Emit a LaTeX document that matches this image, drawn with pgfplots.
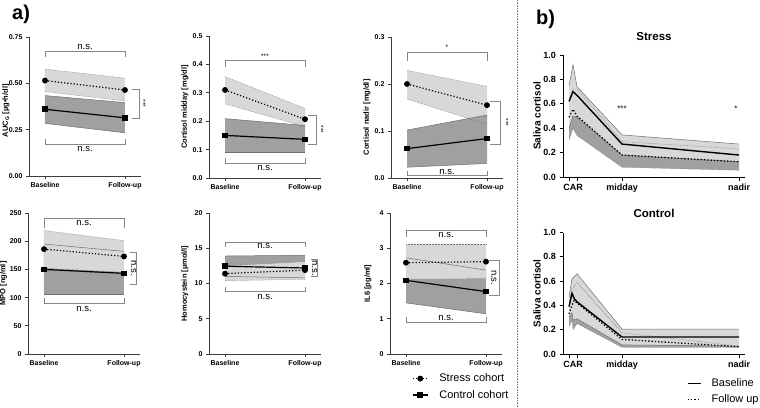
\documentclass[border=0pt]{standalone}
\usepackage{pgfplots}
\pgfplotsset{compat=1.18}
\usepackage{fontspec}
\setmainfont{Liberation Sans}
\definecolor{lightband}{RGB}{216,216,216}
\definecolor{darkband}{RGB}{160,160,160}
\definecolor{edgegray}{RGB}{110,110,110}
\definecolor{brgray}{RGB}{135,135,135}
\definecolor{axgray}{RGB}{60,60,60}
\pgfplotsset{
 panA/.style={scale only axis, width=112pt, xmin=-0.2, xmax=1.2, ymin=0, clip=false,
  axis lines=left, axis line style={-, axgray, line width=0.9pt},
  tick style={axgray, line width=0.9pt}, major tick length=3pt, tick align=outside,
  xtick={0,1}, xticklabels={Baseline,Follow-up},
  tick label style={font=\fontsize{7}{8}\selectfont\bfseries},
  /pgf/number format/assume math mode=true,
  every axis y label/.style={rotate=90, anchor=center, font=\fontsize{7.5}{8}\selectfont\bfseries},
 },
 panB/.style={scale only axis, width=182pt, xmin=-6, xmax=176, ymin=0, ymax=1, clip=false,
  axis lines=left, axis line style={-, black, line width=1pt},
  tick style={black, line width=1pt}, major tick length=3.5pt, tick align=outside,
  xtick={0,8,53,170}, xticklabels={,,midday,nadir},
  extra x ticks={4}, extra x tick labels={CAR}, extra x tick style={major tick style={draw=none}},
  ytick={0,0.2,0.4,0.6,0.8,1}, yticklabels={0.0,0.2,0.4,0.6,0.8,1.0},
  tick label style={font=\fontsize{9}{10}\selectfont\bfseries},
  /pgf/number format/assume math mode=true,
  every axis y label/.style={rotate=90, anchor=center, at={(axis description cs:-0.143,0.5)}, font=\fontsize{10}{11}\selectfont\bfseries},
  ylabel={Saliva cortisol},
 },
 stressmean/.style={black, line width=1.2pt, dotted, mark=*, mark size=2.3pt, mark options={solid, fill=black}},
 ctrlmean/.style={black, line width=1.2pt, mark=square*, mark size=2.2pt, mark options={solid, fill=black}},
 sedge/.style={edgegray, line width=0.5pt, densely dotted},
 cedge/.style={edgegray, line width=0.5pt},
 bmean/.style={black, line width=1.4pt},
 fmean/.style={black, line width=1.3pt, dotted},
}
\tikzset{br/.style={brgray, line width=0.8pt}, ns/.style={font=\fontsize{9.5}{10}\selectfont, inner sep=1pt}, star/.style={font=\fontsize{6.5}{7}\selectfont, inner sep=1pt}}
\begin{document}
\begin{tikzpicture}
\path[use as bounding box] (0pt,0pt) rectangle (760pt,-407pt);
\node[anchor=base west, font=\fontsize{20}{22}\selectfont\bfseries, inner sep=0pt] at (12pt,-19pt) {a)};
\node[anchor=base west, font=\fontsize{20}{22}\selectfont\bfseries, inner sep=0pt] at (536pt,-24pt) {b)};
\draw[gray, densely dotted, line width=0.6pt] (517pt,0pt) -- (517pt,-407pt);

% ---------- Panel 1: AUC
\begin{axis}[panA, at={(29pt,-176pt)}, anchor=south west, height=139pt, ymax=0.75,
  ytick={0,0.25,0.5,0.75}, yticklabels={0.00,0.25,0.50,0.75},
  ylabel={AUC\textsubscript{G} [µg•h/dl]}, ylabel style={at={(axis description cs:-0.205,0.47)}}]
\addplot[fill=lightband, draw=none, forget plot] coordinates {(0,0.577) (1,0.528) (1,0.405) (0,0.455)} -- cycle;
\addplot[fill=darkband, draw=none, forget plot] coordinates {(0,0.434) (1,0.396) (1,0.233) (0,0.284)} -- cycle;
\addplot[sedge, forget plot] coordinates {(0,0.577) (1,0.528)};
\addplot[sedge, forget plot] coordinates {(0,0.455) (1,0.405)};
\addplot[cedge, forget plot] coordinates {(0,0.434) (1,0.396)};
\addplot[cedge, forget plot] coordinates {(0,0.284) (1,0.233)};
\addplot[stressmean, forget plot] coordinates {(0,0.515) (1,0.464)};
\addplot[ctrlmean, forget plot] coordinates {(0,0.360) (1,0.314)};
\draw[br] (axis cs:0,0.642) |- (axis cs:1,0.672) -- (axis cs:1,0.642);
\node[ns, anchor=south] at (axis cs:0.5,0.675) {n.s.};
\draw[br] (axis cs:0,0.202) |- (axis cs:1,0.172) -- (axis cs:1,0.202);
\node[ns, anchor=north] at (axis cs:0.5,0.165) {n.s.};
\draw[br] (axis cs:1.087,0.468) -- (axis cs:1.18,0.468) -- (axis cs:1.18,0.311) -- (axis cs:1.087,0.311);
\node[star, rotate=-90] at (axis cs:1.23,0.39) {***};
\end{axis}

% ---------- Panel 2: Cortisol midday
\begin{axis}[panA, at={(209pt,-178pt)}, anchor=south west, height=142pt, ymax=0.5,
  ytick={0,0.1,0.2,0.3,0.4,0.5}, yticklabels={0.0,0.1,0.2,0.3,0.4,0.5},
  ylabel={Cortisol midday [mg/dl]}, ylabel style={at={(axis description cs:-0.214,0.5)}}]
\addplot[fill=lightband, draw=none, forget plot] coordinates {(0,0.357) (1,0.245) (1,0.181) (0,0.261)} -- cycle;
\addplot[fill=darkband, draw=none, forget plot] coordinates {(0,0.209) (1,0.185) (1,0.089) (0,0.089)} -- cycle;
\addplot[sedge, forget plot] coordinates {(0,0.357) (1,0.245)};
\addplot[sedge, forget plot] coordinates {(0,0.261) (1,0.181)};
\addplot[cedge, forget plot] coordinates {(0,0.209) (1,0.185)};
\addplot[cedge, forget plot] coordinates {(0,0.089) (1,0.089)};
\addplot[stressmean, forget plot] coordinates {(0,0.310) (1,0.207)};
\addplot[ctrlmean, forget plot] coordinates {(0,0.150) (1,0.136)};
\draw[br] (axis cs:0,0.392) |- (axis cs:1,0.413) -- (axis cs:1,0.392);
\node[star, anchor=south] at (axis cs:0.5,0.418) {***};
\draw[br] (axis cs:0,0.069) |- (axis cs:1,0.052) -- (axis cs:1,0.069);
\node[ns, anchor=north] at (axis cs:0.5,0.048) {n.s.};
\draw[br] (axis cs:1.04,0.222) -- (axis cs:1.14,0.222) -- (axis cs:1.14,0.12) -- (axis cs:1.04,0.12);
\node[star, rotate=-90] at (axis cs:1.2,0.171) {***};
\end{axis}

% ---------- Panel 3: Cortisol nadir
\begin{axis}[panA, at={(391pt,-178pt)}, anchor=south west, height=141pt, ymax=0.3,
  ytick={0,0.1,0.2,0.3}, yticklabels={0.0,0.1,0.2,0.3},
  ylabel={Cortisol nadir [mg/dl]}, ylabel style={at={(axis description cs:-0.214,0.43)}}]
\addplot[fill=lightband, draw=none, forget plot] coordinates {(0,0.229) (1,0.195) (1,0.114) (0,0.168)} -- cycle;
\addplot[fill=darkband, draw=none, forget plot] coordinates {(0,0.102) (1,0.134) (1,0.031) (0,0.023)} -- cycle;
\addplot[sedge, forget plot] coordinates {(0,0.229) (1,0.195)};
\addplot[sedge, forget plot] coordinates {(0,0.168) (1,0.114)};
\addplot[cedge, forget plot] coordinates {(0,0.102) (1,0.134)};
\addplot[cedge, forget plot] coordinates {(0,0.023) (1,0.031)};
\addplot[stressmean, forget plot] coordinates {(0,0.200) (1,0.155)};
\addplot[ctrlmean, forget plot] coordinates {(0,0.0625) (1,0.084)};
\draw[br] (axis cs:0,0.25) |- (axis cs:1,0.268) -- (axis cs:1,0.25);
\node[star, anchor=south] at (axis cs:0.5,0.27) {*};
\draw[br] (axis cs:0,0.0156) |- (axis cs:1,0.0064) -- (axis cs:1,0.0156);
\node[ns] at (axis cs:0.5,0.0125) {n.s.};
\draw[br] (axis cs:1.04,0.164) -- (axis cs:1.166,0.164) -- (axis cs:1.166,0.0725) -- (axis cs:1.04,0.0725);
\node[star, rotate=-90] at (axis cs:1.24,0.118) {***};
\end{axis}

% ---------- Panel 4: MPO
\begin{axis}[panA, at={(28pt,-354pt)}, anchor=south west, height=141pt, ymax=250,
  ytick={0,50,100,150,200,250}, yticklabels={0,50,100,150,200,250},
  ylabel={MPO [ng/ml]}, ylabel style={at={(axis description cs:-0.22,0.5)}}]
\addplot[fill=darkband, draw=none, forget plot] coordinates {(0,195) (1,182) (1,106) (0,106)} -- cycle;
\addplot[fill=lightband, draw=none, forget plot] coordinates {(0,219) (1,201) (1,145) (0,152)} -- cycle;
\addplot[sedge, forget plot] coordinates {(0,219) (1,201)};
\addplot[sedge, forget plot] coordinates {(0,152) (1,145)};
\addplot[cedge, forget plot] coordinates {(0,195) (1,182)};
\addplot[cedge, forget plot] coordinates {(0,106) (1,106)};
\addplot[stressmean, forget plot] coordinates {(0,186) (1,173)};
\addplot[ctrlmean, forget plot] coordinates {(0,150) (1,143)};
\draw[br] (axis cs:0,223) |- (axis cs:1,241) -- (axis cs:1,223);
\node[ns, anchor=north] at (axis cs:0.5,239) {n.s.};
\draw[br] (axis cs:0,99) |- (axis cs:1,90) -- (axis cs:1,99);
\node[ns, anchor=north] at (axis cs:0.5,87) {n.s.};
\draw[br] (axis cs:1.08,180) -- (axis cs:1.16,180) -- (axis cs:1.16,124) -- (axis cs:1.08,124);
\node[ns, rotate=-90] at (axis cs:1.12,152) {n.s.};
\end{axis}

% ---------- Panel 5: Homocystein
\begin{axis}[panA, at={(209pt,-354pt)}, anchor=south west, height=141pt, ymax=20,
  ytick={0,5,10,15,20}, yticklabels={0,5,10,15,20},
  ylabel={Homocystein [µmol/l]}, ylabel style={at={(axis description cs:-0.214,0.5)}}]
\addplot[fill=darkband, draw=none, forget plot] coordinates {(0,13.9) (1,14.0) (1,10.8) (0,11.0)} -- cycle;
\addplot[fill=lightband, draw=none, forget plot] coordinates {(0,12.5) (1,13.1) (1,10.6) (0,10.4)} -- cycle;
\addplot[sedge, forget plot] coordinates {(0,12.5) (1,13.1)};
\addplot[sedge, forget plot] coordinates {(0,10.4) (1,10.6)};
\addplot[cedge, forget plot] coordinates {(0,13.9) (1,14.0)};
\addplot[cedge, forget plot] coordinates {(0,11.0) (1,10.8)};
\addplot[stressmean, forget plot] coordinates {(0,11.4) (1,11.9)};
\addplot[ctrlmean, forget plot] coordinates {(0,12.45) (1,12.2)};
\draw[br] (axis cs:0,15.2) |- (axis cs:1,15.9) -- (axis cs:1,15.2);
\node[ns, anchor=north] at (axis cs:0.5,15.8) {n.s.};
\draw[br] (axis cs:0,9.55) |- (axis cs:1,8.84) -- (axis cs:1,9.55);
\node[ns, anchor=north] at (axis cs:0.5,8.6) {n.s.};
\draw[br] (axis cs:1.075,13.43) -- (axis cs:1.16,13.43) -- (axis cs:1.16,10.97) -- (axis cs:1.075,10.97);
\node[ns, rotate=-90] at (axis cs:1.12,12.2) {n.s.};
\end{axis}

% ---------- Panel 6: IL6
\begin{axis}[panA, at={(390pt,-354pt)}, anchor=south west, height=141pt, ymax=4,
  ytick={0,1,2,3,4}, yticklabels={0,1,2,3,4},
  ylabel={IL6 [pg/ml]}, ylabel style={at={(axis description cs:-0.196,0.5)}},
  legend style={at={(axis description cs:0.196,-0.125)}, anchor=north west, draw=none, fill=none,
    font=\fontsize{11}{12}\selectfont, row sep=3pt, inner sep=0pt},
  legend cell align=left,
  legend image code/.code={\draw[mark repeat=2, mark phase=2, #1] plot coordinates {(0pt,0pt) (7.5pt,0pt) (15pt,0pt)}; \path (24pt,0pt);}]
\addplot[fill=darkband, draw=none, forget plot] coordinates {(0,2.73) (1,2.38) (1,1.14) (0,1.45)} -- cycle;
\addplot[fill=lightband, draw=none, forget plot] coordinates {(0,3.10) (1,3.10) (1,2.14) (0,2.12)} -- cycle;
\addplot[sedge, forget plot] coordinates {(0,3.10) (1,3.10)};
\addplot[sedge, forget plot] coordinates {(0,2.12) (1,2.14)};
\addplot[cedge, forget plot] coordinates {(0,2.73) (1,2.38)};
\addplot[cedge, forget plot] coordinates {(0,1.45) (1,1.14)};
\addplot[stressmean, forget plot] coordinates {(0,2.59) (1,2.62)};
\addplot[ctrlmean, forget plot] coordinates {(0,2.09) (1,1.77)};
\draw[br] (axis cs:0,3.32) |- (axis cs:1,3.51) -- (axis cs:1,3.32);
\node[ns, anchor=north] at (axis cs:0.5,3.49) {n.s.};
\draw[br] (axis cs:0,1.04) |- (axis cs:1,0.887) -- (axis cs:1,1.04);
\node[ns, anchor=south] at (axis cs:0.5,0.9) {n.s.};
\draw[br] (axis cs:1.04,2.66) -- (axis cs:1.166,2.66) -- (axis cs:1.166,1.67) -- (axis cs:1.04,1.67);
\node[ns, rotate=-90] at (axis cs:1.1,2.165) {n.s.};
\addlegendimage{stressmean}
\addlegendentry{Stress cohort}
\addlegendimage{ctrlmean}
\addlegendentry{Control cohort}
\end{axis}

% ---------- Panel b top: Stress
\node[font=\fontsize{11.5}{12}\selectfont\bfseries] at (654pt,-37pt) {Stress};
\begin{axis}[panB, at={(563pt,-177pt)}, anchor=south west, height=122pt]
\addplot[fill=darkband, draw=none, forget plot] coordinates {(0,0.62) (4,0.72) (8,0.72) (53,0.29) (170,0.23) (170,0.055) (53,0.08) (8,0.34) (4,0.40) (0,0.30)} -- cycle;
\addplot[fill=lightband, draw=none, forget plot] coordinates {(0,0.75) (4,0.92) (8,0.74) (53,0.345) (170,0.27) (170,0.125) (53,0.18) (8,0.49) (4,0.50) (0,0.40)} -- cycle;
\addplot[cedge, forget plot] coordinates {(0,0.75) (4,0.92) (8,0.74) (53,0.345) (170,0.27)};
\addplot[cedge, forget plot] coordinates {(0,0.40) (4,0.50) (8,0.49) (53,0.18) (170,0.125)};
\addplot[sedge, forget plot] coordinates {(0,0.62) (4,0.72) (8,0.72) (53,0.29) (170,0.23)};
\addplot[sedge, forget plot] coordinates {(0,0.30) (4,0.40) (8,0.34) (53,0.08) (170,0.055)};
\addplot[bmean, forget plot] coordinates {(0,0.62) (4,0.70) (8,0.67) (53,0.27) (170,0.18)};
\addplot[fmean, forget plot] coordinates {(0,0.49) (4,0.555) (8,0.50) (53,0.18) (170,0.125)};
\node[font=\fontsize{8}{9}\selectfont] at (axis cs:53,0.557) {***};
\node[font=\fontsize{8}{9}\selectfont] at (axis cs:167,0.557) {*};
\end{axis}

% ---------- Panel b bottom: Control
\node[font=\fontsize{11.5}{12}\selectfont\bfseries] at (654pt,-213pt) {Control};
\begin{axis}[panB, at={(563pt,-354pt)}, anchor=south west, height=121.5pt,
  legend style={at={(axis description cs:0.681,-0.185)}, anchor=north west, draw=none, fill=none,
    font=\fontsize{11}{12}\selectfont, row sep=2.5pt, inner sep=0pt},
  legend cell align=left,
  legend image code/.code={\draw[#1] (0pt,0pt) -- (13pt,0pt); \path (21pt,0pt);}]
\addplot[fill=darkband, draw=none, forget plot] coordinates {(0,0.40) (3,0.53) (8,0.59) (53,0.175) (170,0.065) (170,0.055) (53,0.055) (8,0.25) (4,0.20) (3,0.28) (0,0.22)} -- cycle;
\addplot[fill=lightband, draw=none, forget plot] coordinates {(0,0.47) (3,0.62) (8,0.66) (53,0.205) (170,0.205) (170,0.065) (53,0.075) (8,0.29) (4,0.28) (3,0.34) (0,0.30)} -- cycle;
\addplot[cedge, forget plot] coordinates {(0,0.47) (3,0.62) (8,0.66) (53,0.205) (170,0.205)};
\addplot[cedge, forget plot] coordinates {(0,0.30) (3,0.34) (4,0.28) (8,0.29) (53,0.075) (170,0.065)};
\addplot[sedge, forget plot] coordinates {(0,0.40) (3,0.53) (8,0.59) (53,0.175) (170,0.065)};
\addplot[sedge, forget plot] coordinates {(0,0.22) (3,0.28) (4,0.20) (8,0.25) (53,0.055) (170,0.055)};
\addplot[bmean, forget plot] coordinates {(0,0.39) (3,0.50) (5,0.46) (8,0.43) (53,0.14) (170,0.14)};
\addplot[fmean, forget plot] coordinates {(0,0.33) (3,0.40) (5,0.44) (8,0.42) (53,0.12) (170,0.06)};
\addlegendimage{bmean}
\addlegendentry{Baseline}
\addlegendimage{fmean}
\addlegendentry{Follow up}
\end{axis}
\end{tikzpicture}
\end{document}
